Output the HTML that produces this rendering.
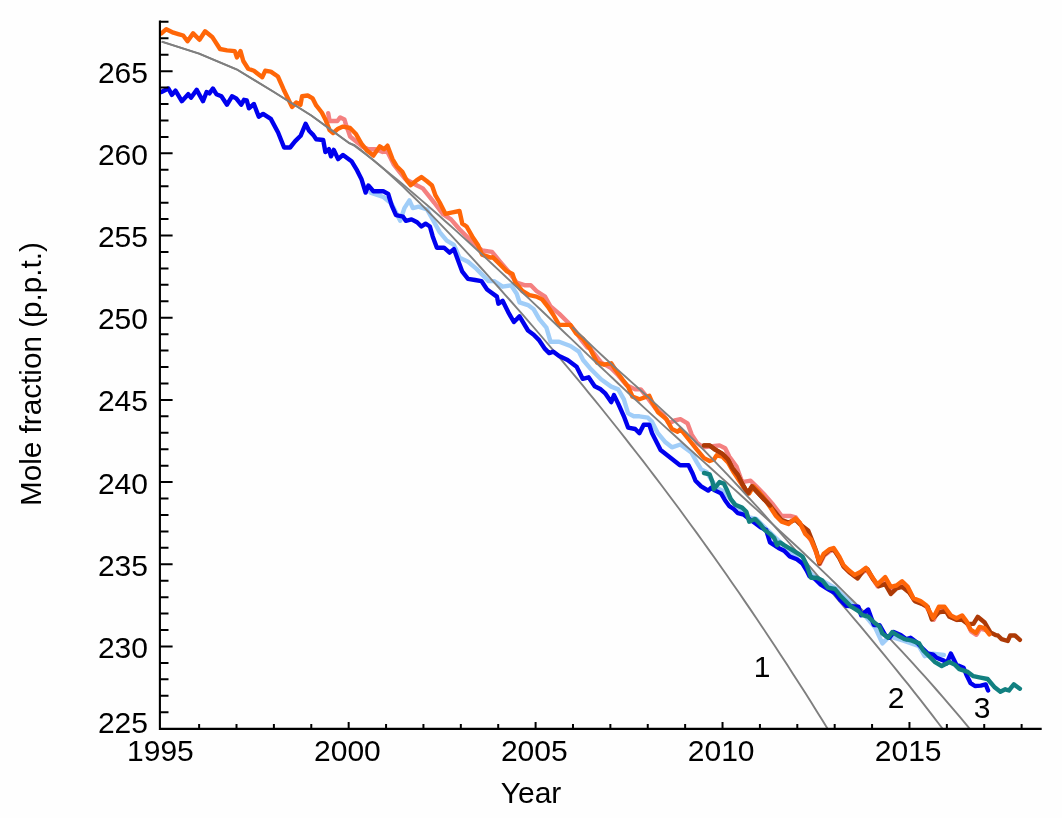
<!DOCTYPE html>
<html><head><meta charset="utf-8"><style>
html,body{margin:0;padding:0;background:#fefefe;}
svg{display:block;will-change:transform}
.t{font-family:"Liberation Sans",sans-serif;font-size:30px;fill:#000}
</style></head><body>
<svg width="1062" height="818" viewBox="0 0 1062 818"><defs><clipPath id="pc"><rect x="160" y="0" width="900" height="728.4"/></clipPath></defs>
<path d="M370.5 192.6 L383.2 196.8 L391.7 203.9 L400.2 220.8 L404.4 208.1 L409.4 200.4 L412.9 208.1 L418.6 206.7 L427.0 209.5 L432.7 219.4 L439.7 232.1 L446.8 240.6 L453.9 244.9 L459.5 257.6 L468.0 261.8 L476.5 268.9 L488.5 281.1 L494.1 281.1 L502.6 286.7 L511.1 285.3 L516.7 293.8 L519.5 302.3 L528.0 305.1 L533.7 309.3 L539.3 319.2 L546.4 327.7 L550.6 341.8 L559.1 341.8 L570.4 346.0 L578.9 351.7 L583.1 360.0 L590.0 368.2 L601.3 379.5 L611.2 386.6 L618.2 389.4 L623.9 399.3 L628.1 413.4 L633.8 416.3 L639.4 416.3 L647.9 417.7 L652.1 421.9 L657.8 433.2 L664.9 441.7 L671.9 447.3 L680.4 444.5 L691.3 452.5 L696.9 462.4 L701.2 469.4 L706.8 472.3 L711.1 479.3 L716.7 487.8 L722.4 490.6 L729.4 497.7 L736.5 506.2 L742.1 510.4 L749.2 517.5 L756.3 518.9 L761.9 524.5 L767.6 530.0 L805.3 566.4 L812.4 574.9 L829.3 584.7 L836.4 589.0 L843.4 596.0 L861.2 611.0 L875.3 627.9 L882.4 643.4 L889.4 636.4 L903.6 640.6 L919.1 646.3 L924.7 656.2 L932.5 653.6 L943.8 655.0" fill="none" stroke="#a0cdf8" stroke-width="4.4" stroke-linejoin="round" stroke-linecap="round"/>
<path d="M328.2 113.2 L329.6 121.0 L337.4 121.0 L340.2 117.4 L344.4 119.5 L346.6 126.6 L348.7 132.3 L350.1 136.5 L362.1 146.4 L368.4 149.2 L375.5 149.2 L382.6 152.0 L386.8 150.6 L393.9 164.7 L399.5 171.8 L405.2 178.9 L417.1 185.5 L422.8 188.4 L428.4 195.4 L434.1 202.5 L442.6 213.8 L451.0 219.4 L459.5 229.3 L466.6 236.4 L473.6 243.4 L482.1 250.5 L492.0 251.9 L499.8 261.3 L508.2 271.2 L516.7 282.5 L525.2 285.3 L530.8 285.3 L536.5 291.0 L545.0 296.6 L550.6 306.5 L559.1 313.6 L567.6 322.0 L576.0 331.9 L581.7 340.4 L587.3 347.5 L590.0 348.5 L601.3 362.6 L611.2 368.2 L618.2 375.3 L626.7 385.2 L635.2 389.4 L640.8 389.4 L646.5 396.5 L655.0 407.8 L663.4 414.9 L669.1 423.3 L674.7 420.5 L680.4 419.1 L687.5 423.3 L691.7 434.6 L697.3 443.1 L703.0 447.3 L719.5 445.4 L725.2 448.2 L729.4 456.7 L736.5 466.6 L742.1 482.1 L750.6 480.7 L756.3 486.4 L764.7 494.9 L773.2 504.7 L781.7 516.0 L790.2 516.0 L795.8 517.5 L802.9 527.3 L811.5 541.3 L815.7 551.2 L819.9 563.9 L824.2 555.5 L829.8 551.2 L834.1 549.8 L839.7 558.3 L843.9 566.8 L849.6 572.4 L855.2 576.7 L860.9 573.8 L866.5 569.6 L872.2 578.1 L877.8 586.5 L885.7 578.9 L891.3 588.7 L897.0 587.3 L902.6 583.1 L908.3 588.7 L913.9 600.0 L921.0 602.9 L926.7 607.1 L933.7 619.8 L939.4 608.5 L945.0 608.5 L951.3 617.2 L957.0 620.0 L962.6 617.2 L966.9 622.9 L971.1 631.3 L976.4 634.8 L980.1 628.7 L985.0 629.9" fill="none" stroke="#f48080" stroke-width="4.4" stroke-linejoin="round" stroke-linecap="round"/>
<path d="M704.0 445.4 L709.7 445.4 L715.3 449.7 L722.4 453.9 L728.0 459.5 L732.3 468.0 L737.9 475.1 L742.1 483.6 L747.8 493.4 L752.0 486.4 L770.0 505.6 L775.6 512.7 L781.3 519.8 L788.4 522.6 L795.4 519.8 L799.7 524.0 L808.1 530.4 L812.4 541.0 L816.6 552.3 L819.4 563.6 L823.7 555.1 L829.3 550.1 L833.6 549.4 L839.2 557.9 L843.4 566.4 L849.1 572.0 L857.6 578.4 L863.2 570.6 L867.5 569.2 L873.1 579.1 L878.8 586.2 L885.2 584.1 L890.8 594.0 L896.5 588.4 L902.1 586.9 L909.2 592.6 L914.9 601.1 L921.9 603.9 L927.6 606.7 L931.8 619.4 L938.9 612.4 L945.9 611.0 L949.4 616.8 L956.5 619.7 L962.1 619.7 L967.8 623.9 L973.4 623.9 L977.7 616.8 L984.7 622.5 L990.4 632.4 L996.0 635.2 L997.9 635.5 L1001.6 639.1 L1007.7 641.0 L1010.2 635.5 L1015.0 635.5 L1019.9 639.8" fill="none" stroke="#ad3a06" stroke-width="4.4" stroke-linejoin="round" stroke-linecap="round"/>
<path d="M161.4 33.4 L166.3 29.2 L173.4 32.7 L178.3 34.1 L183.2 35.5 L187.5 41.2 L193.1 33.4 L199.5 39.8 L205.1 31.3 L212.2 36.9 L220.0 49.0 L227.0 50.4 L234.8 51.1 L236.9 57.4 L240.5 51.1 L243.3 61.0 L248.2 68.7 L253.9 70.8 L262.3 77.2 L265.2 70.8 L270.8 71.6 L277.9 76.5 L283.5 89.2 L292.0 106.9 L296.2 102.6 L300.5 104.7 L302.1 96.2 L307.7 95.5 L312.7 98.4 L316.2 105.4 L321.8 112.5 L325.4 119.5 L329.6 130.1 L333.1 133.0 L338.1 128.7 L343.0 126.6 L350.1 128.0 L355.7 133.7 L361.4 143.6 L367.0 150.6 L373.4 155.6 L379.7 146.4 L384.0 149.2 L387.5 145.7 L392.5 159.1 L396.7 166.2 L402.3 171.8 L406.6 180.3 L410.8 185.2 L416.5 180.3 L421.4 177.1 L427.0 181.3 L432.0 185.5 L435.5 195.4 L439.7 202.5 L445.4 213.8 L452.5 212.4 L459.5 211.0 L462.3 223.7 L466.6 226.5 L472.2 236.4 L477.9 244.9 L482.1 254.7 L490.6 257.6 L492.7 257.1 L499.8 264.1 L506.8 271.2 L512.5 274.0 L515.3 282.5 L522.4 291.0 L529.4 295.2 L536.5 296.6 L542.1 299.4 L547.8 306.5 L553.4 315.0 L559.1 324.9 L564.7 324.9 L570.4 324.9 L576.0 333.3 L583.1 339.0 L590.2 348.9 L597.1 362.6 L604.1 364.7 L611.2 363.3 L615.4 369.7 L622.5 379.5 L628.1 386.6 L632.4 396.5 L639.4 399.3 L649.3 395.8 L652.1 402.1 L657.8 412.0 L666.3 419.1 L671.9 429.0 L677.6 431.8 L680.4 429.0 L686.0 436.0 L696.9 449.7 L704.0 458.1 L709.7 461.0 L713.9 459.5 L716.7 455.3 L722.4 456.7 L728.0 462.4 L733.7 472.3 L739.3 480.7 L745.0 489.2 L749.2 493.4 L753.4 486.4 L759.1 492.0 L764.7 499.1 L770.4 507.6 L776.0 516.0 L781.7 521.7 L788.4 524.0 L795.4 518.4 L799.7 522.6 L805.3 533.9 L811.0 539.5 L815.2 549.4 L819.4 562.1 L823.7 553.7 L829.3 549.4 L833.6 548.0 L839.2 556.5 L843.4 565.0 L849.1 570.6 L854.7 574.9 L860.4 572.0 L866.0 567.8 L871.7 576.3 L877.3 584.7 L885.2 577.1 L890.8 586.9 L896.5 585.5 L902.1 581.3 L907.8 586.9 L913.4 598.2 L920.5 601.1 L926.2 605.3 L933.2 618.0 L938.9 606.7 L944.5 606.7 L950.8 615.4 L956.5 618.2 L962.1 615.4 L966.4 621.1 L970.6 629.5 L975.9 633.0 L979.6 626.9 L984.5 628.1 L989.4 634.3" fill="none" stroke="#ff6608" stroke-width="4.4" stroke-linejoin="round" stroke-linecap="round"/>
<path d="M704.0 445.4 L709.7 445.4 L715.3 449.7 L722.4 453.9 L728.0 459.5 L732.3 468.0 L737.9 475.1 L742.1 483.6 L747.8 493.4 L752.0 486.4 L770.0 505.6" fill="none" stroke="#ad3a06" stroke-width="4.4" stroke-linejoin="round" stroke-linecap="round"/>
<path d="M161.7 41.6 L199.1 53.7 L236.5 69.3 L273.9 92.0 L311.3 115.5 L348.7 142.8 L354.7 145.2 L360.7 149.8 L366.7 154.7 L372.7 159.6 L378.7 164.7 L384.7 169.9 L390.7 175.3 L396.7 180.8 L402.7 186.4 L408.7 192.2 L414.7 198.0 L420.7 203.9 L426.7 210.0 L432.7 216.1 L438.7 222.3 L444.7 228.6 L450.7 234.9 L456.7 241.3 L462.7 247.8 L468.7 254.3 L474.7 260.9 L480.7 267.5 L486.7 274.1 L492.7 280.8 L498.7 287.5 L504.7 294.3 L510.7 301.0 L516.7 307.9 L522.7 314.7 L528.7 321.6 L534.7 328.5 L540.7 335.5 L546.7 342.5 L552.7 349.6 L558.7 356.7 L564.7 363.8 L570.7 371.0 L576.7 378.2 L582.7 385.4 L588.7 392.8 L594.7 400.1 L600.7 407.5 L606.7 415.0 L612.7 422.5 L618.7 430.0 L624.7 437.6 L630.7 445.3 L636.7 453.0 L642.7 460.7 L648.7 468.5 L654.7 476.4 L660.7 484.3 L666.7 492.2 L672.7 500.3 L678.7 508.3 L684.7 516.5 L690.7 524.7 L696.7 532.9 L702.7 541.2 L708.7 549.6 L714.7 558.0 L720.7 566.5 L726.7 575.0 L732.7 583.7 L738.7 592.3 L744.7 601.1 L750.7 609.9 L756.7 618.7 L762.7 627.7 L768.7 636.7 L774.7 645.8 L780.7 654.9 L786.7 664.1 L792.7 673.4 L798.7 682.7 L804.7 692.1 L810.7 701.6 L816.7 711.2 L822.7 720.8 L831.5 735.1" fill="none" stroke="#7f7f7f" stroke-width="1.9" stroke-linejoin="round" clip-path="url(#pc)"/>
<path d="M572.4 327.0 L578.4 333.0 L584.4 338.8 L590.4 344.5 L596.4 350.1 L602.4 355.7 L608.4 361.2 L614.4 366.7 L620.4 372.1 L626.4 377.5 L632.4 382.9 L638.4 388.3 L644.4 393.7 L650.4 399.1 L656.4 404.6 L662.4 410.1 L668.4 415.6 L674.4 421.3 L680.4 427.0 L686.4 432.8 L692.4 438.7 L698.4 444.7 L704.4 450.7 L710.4 456.9 L716.4 463.1 L722.4 469.4 L728.4 475.7 L734.4 482.1 L740.4 488.5 L746.4 495.1 L752.4 501.6 L758.4 508.2 L764.4 514.9 L770.4 521.6 L776.4 528.3 L782.4 535.1 L788.4 542.0 L794.4 548.8 L800.4 555.7 L806.4 562.7 L812.4 569.6 L818.4 576.6 L824.4 583.6 L830.4 590.7 L836.4 597.8 L842.4 604.9 L848.4 612.0 L854.4 619.1 L860.4 626.2 L866.4 633.4 L872.4 640.6 L878.4 647.9 L884.4 655.1 L890.4 662.5 L896.4 669.8 L902.4 677.3 L908.4 684.7 L914.4 692.3 L920.4 699.9 L926.4 707.6 L932.4 715.3 L938.4 723.2 L946.2 733.5" fill="none" stroke="#7f7f7f" stroke-width="1.9" stroke-linejoin="round" clip-path="url(#pc)"/>
<path d="M161.7 41.6 L199.1 53.7 L236.5 69.3 L273.9 92.0 L311.3 115.5 L348.7 142.8 L354.7 145.9 L360.7 150.5 L366.7 155.1 L372.7 159.8 L378.7 164.6 L384.7 169.5 L390.7 174.4 L396.7 179.3 L402.7 184.3 L408.7 189.4 L414.7 194.5 L420.7 199.6 L426.7 204.8 L432.7 210.0 L438.7 215.3 L444.7 220.7 L450.7 226.0 L456.7 231.4 L462.7 236.9 L468.7 242.3 L474.7 247.8 L480.7 253.3 L486.7 258.9 L492.7 264.5 L498.7 270.1 L504.7 275.7 L510.7 281.4 L516.7 287.0 L522.7 292.7 L528.7 298.4 L534.7 304.1 L540.7 309.8 L546.7 315.5 L552.7 321.2 L558.7 327.0 L564.7 332.7 L570.7 338.4 L576.7 344.1 L582.7 349.9 L588.7 355.6 L594.7 361.3 L600.7 367.0 L606.7 372.6 L612.7 378.3 L618.7 384.0 L624.7 389.6 L630.7 395.2 L636.7 400.8 L642.7 406.4 L648.7 411.9 L654.7 417.4 L660.7 422.9 L666.7 428.4 L672.7 433.8 L678.7 439.3 L684.7 444.7 L690.7 450.1 L696.7 455.5 L702.7 460.9 L708.7 466.3 L714.7 471.7 L720.7 477.1 L726.7 482.5 L732.7 487.9 L738.7 493.3 L744.7 498.7 L750.7 504.2 L756.7 509.6 L762.7 515.1 L768.7 520.6 L774.7 526.1 L780.7 531.6 L786.7 537.2 L792.7 542.7 L798.7 548.3 L804.7 554.0 L810.7 559.7 L816.7 565.4 L822.7 571.1 L828.7 576.9 L834.7 582.8 L840.7 588.6 L846.7 594.6 L852.7 600.5 L858.7 606.5 L864.7 612.6 L870.7 618.7 L876.7 624.9 L882.7 631.1 L888.7 637.4 L894.7 643.8 L900.7 650.2 L906.7 656.6 L912.7 663.2 L918.7 669.8 L924.7 676.4 L930.7 683.2 L936.7 690.0 L942.7 696.8 L948.7 703.8 L954.7 710.8 L960.7 717.9 L966.7 725.1 L973.8 733.7" fill="none" stroke="#7f7f7f" stroke-width="1.9" stroke-linejoin="round" clip-path="url(#pc)"/>
<path d="M161.4 92.0 L168.4 88.5 L171.9 94.9 L175.5 90.6 L181.8 101.2 L188.2 94.2 L191.0 97.7 L196.7 89.9 L203.0 101.2 L206.6 92.0 L209.4 93.4 L212.9 88.5 L216.4 94.2 L221.4 96.3 L227.0 104.7 L232.0 96.3 L236.2 98.4 L241.2 104.7 L244.0 99.8 L246.8 100.5 L248.9 108.3 L253.9 104.0 L258.8 116.8 L263.1 113.9 L270.8 118.9 L278.1 132.5 L284.1 147.5 L290.1 147.5 L295.0 141.4 L300.6 135.8 L305.6 123.8 L309.1 130.8 L313.4 135.1 L316.2 139.3 L323.2 140.0 L325.4 152.0 L328.9 149.2 L331.0 156.3 L333.8 149.9 L338.1 159.1 L343.0 154.9 L351.5 161.2 L357.1 170.4 L361.4 178.9 L365.6 192.6 L368.4 185.5 L373.4 191.2 L383.2 191.2 L388.2 194.0 L391.7 205.3 L396.0 215.2 L403.0 216.6 L405.8 220.8 L411.5 219.4 L417.1 222.3 L421.4 226.5 L425.6 223.7 L429.9 226.5 L432.7 236.4 L436.9 247.7 L444.0 247.7 L449.6 252.6 L453.9 249.1 L458.1 260.4 L462.3 271.7 L468.0 278.8 L475.1 280.0 L481.4 281.1 L487.1 289.5 L496.9 296.6 L498.4 303.7 L502.6 300.8 L508.2 312.1 L513.9 322.0 L519.5 316.4 L528.0 330.5 L533.7 334.7 L539.3 340.4 L545.0 348.9 L549.2 353.1 L553.4 351.7 L559.1 355.9 L567.6 360.0 L576.6 366.7 L582.7 378.8 L588.6 377.3 L594.7 386.3 L600.7 389.3 L605.5 393.7 L611.2 402.1 L614.0 395.1 L618.2 403.6 L623.9 416.3 L628.1 427.6 L635.2 429.0 L639.4 433.2 L643.7 424.7 L649.3 424.7 L652.1 433.2 L656.4 441.7 L660.6 450.0 L680.0 465.2 L688.5 465.2 L692.7 473.7 L695.5 480.7 L701.2 486.4 L708.2 490.6 L711.1 487.8 L715.3 490.6 L721.0 493.4 L725.2 500.5 L729.4 506.2 L733.7 509.0 L737.9 513.2 L743.6 514.6 L749.2 518.9 L754.9 523.1 L760.5 527.3 L766.2 530.0 L770.0 542.4 L778.5 548.0 L784.1 550.8 L789.8 556.5 L796.8 559.3 L802.5 563.6 L806.7 570.6 L809.5 576.3 L815.2 579.1 L820.8 584.7 L827.9 589.0 L835.0 593.2 L840.6 600.3 L846.3 605.9 L858.4 606.7 L861.2 615.2 L868.2 609.5 L873.9 625.1 L879.5 625.1 L885.2 635.0 L889.4 637.8 L893.7 632.1 L900.7 635.0 L906.4 639.2 L910.6 637.8 L916.3 642.0 L921.9 647.7 L927.6 653.3 L933.2 654.7 L936.7 657.8 L943.8 660.6 L946.6 663.4 L950.8 653.6 L956.5 664.9 L963.6 667.7 L966.4 674.7 L970.6 683.2 L974.9 686.0 L980.8 685.6 L985.7 684.4 L988.1 690.5" fill="none" stroke="#0000ee" stroke-width="4.4" stroke-linejoin="round" stroke-linecap="round"/>
<path d="M704.0 473.0 L709.7 474.4 L712.5 482.1 L713.9 489.2 L719.5 482.1 L723.8 483.6 L726.6 489.2 L730.8 499.1 L735.1 504.7 L742.1 507.6 L746.4 511.8 L749.2 521.7 L754.9 518.9 L760.5 524.5 L764.7 530.0 L770.0 533.9 L774.2 538.1 L777.1 545.2 L779.9 542.4 L784.1 545.2 L791.2 549.4 L798.2 553.7 L802.5 556.5 L806.7 565.0 L811.0 577.7 L816.6 577.7 L822.3 580.5 L827.9 587.6 L835.0 589.0 L840.6 596.0 L851.3 606.7 L858.4 611.0 L862.6 615.2 L868.2 616.6 L873.9 622.3 L879.5 626.5 L882.4 633.6 L888.0 637.8 L892.3 632.1 L899.3 636.4 L905.0 639.2 L912.0 640.6 L919.1 643.4 L923.3 650.5 L927.6 654.7 L934.6 661.8 L941.7 666.0 L949.4 662.0 L955.1 664.9 L959.3 669.1 L967.8 671.9 L973.4 676.2 L980.5 677.6 L987.6 679.0 L994.3 686.9 L1000.4 691.7 L1005.3 689.3 L1008.9 690.5 L1013.8 684.4 L1019.9 688.7" fill="none" stroke="#128080" stroke-width="4.4" stroke-linejoin="round" stroke-linecap="round"/>
<path d="M159.9 20.5 V728.85 H1041.7" fill="none" stroke="#000" stroke-width="2.1"/>
<path d="M159.9 712.21H168.5 M159.9 695.77H168.5 M159.9 679.34H168.5 M159.9 662.90H168.5 M159.9 646.46H172.6 M159.9 630.02H168.5 M159.9 613.58H168.5 M159.9 597.15H168.5 M159.9 580.71H168.5 M159.9 564.27H172.6 M159.9 547.83H168.5 M159.9 531.39H168.5 M159.9 514.96H168.5 M159.9 498.52H168.5 M159.9 482.08H172.6 M159.9 465.64H168.5 M159.9 449.20H168.5 M159.9 432.77H168.5 M159.9 416.33H168.5 M159.9 399.89H172.6 M159.9 383.45H168.5 M159.9 367.01H168.5 M159.9 350.58H168.5 M159.9 334.14H168.5 M159.9 317.70H172.6 M159.9 301.26H168.5 M159.9 284.82H168.5 M159.9 268.39H168.5 M159.9 251.95H168.5 M159.9 235.51H172.6 M159.9 219.07H168.5 M159.9 202.63H168.5 M159.9 186.20H168.5 M159.9 169.76H168.5 M159.9 153.32H172.6 M159.9 136.88H168.5 M159.9 120.44H168.5 M159.9 104.01H168.5 M159.9 87.57H168.5 M159.9 71.13H172.6 M159.9 54.69H168.5 M159.9 38.25H168.5 M159.9 21.82H168.5 M199.13 728.85V724 M236.51 728.85V724 M273.90 728.85V724 M311.28 728.85V724 M348.67 728.85V722 M386.06 728.85V724 M423.44 728.85V724 M460.83 728.85V724 M498.21 728.85V724 M535.60 728.85V722 M572.99 728.85V724 M610.37 728.85V724 M647.76 728.85V724 M685.14 728.85V724 M722.53 728.85V722 M759.92 728.85V724 M797.30 728.85V724 M834.69 728.85V724 M872.07 728.85V724 M909.46 728.85V722 M946.85 728.85V724 M984.23 728.85V724 M1021.62 728.85V724" stroke="#000" stroke-width="2"/>
<text x="148" y="732.6" text-anchor="end" class="t">225</text>
<text x="148" y="658.0" text-anchor="end" class="t">230</text>
<text x="148" y="575.8" text-anchor="end" class="t">235</text>
<text x="148" y="493.6" text-anchor="end" class="t">240</text>
<text x="148" y="411.4" text-anchor="end" class="t">245</text>
<text x="148" y="329.2" text-anchor="end" class="t">250</text>
<text x="148" y="247.0" text-anchor="end" class="t">255</text>
<text x="148" y="164.8" text-anchor="end" class="t">260</text>
<text x="148" y="82.6" text-anchor="end" class="t">265</text>
<text x="160.4" y="761" text-anchor="middle" class="t">1995</text>
<text x="347.4" y="761" text-anchor="middle" class="t">2000</text>
<text x="534.3" y="761" text-anchor="middle" class="t">2005</text>
<text x="721.2" y="761" text-anchor="middle" class="t">2010</text>
<text x="908.2" y="761" text-anchor="middle" class="t">2015</text>
<text x="531" y="803" text-anchor="middle" class="t">Year</text>
<text transform="translate(41 374) rotate(-90)" text-anchor="middle" class="t" style="font-size:29.7px">Mole fraction (p.p.t.)</text>
<text x="762" y="677" text-anchor="middle" class="t">1</text>
<text x="896" y="708" text-anchor="middle" class="t">2</text>
<text x="982" y="717.5" text-anchor="middle" class="t">3</text>
</svg></body></html>
